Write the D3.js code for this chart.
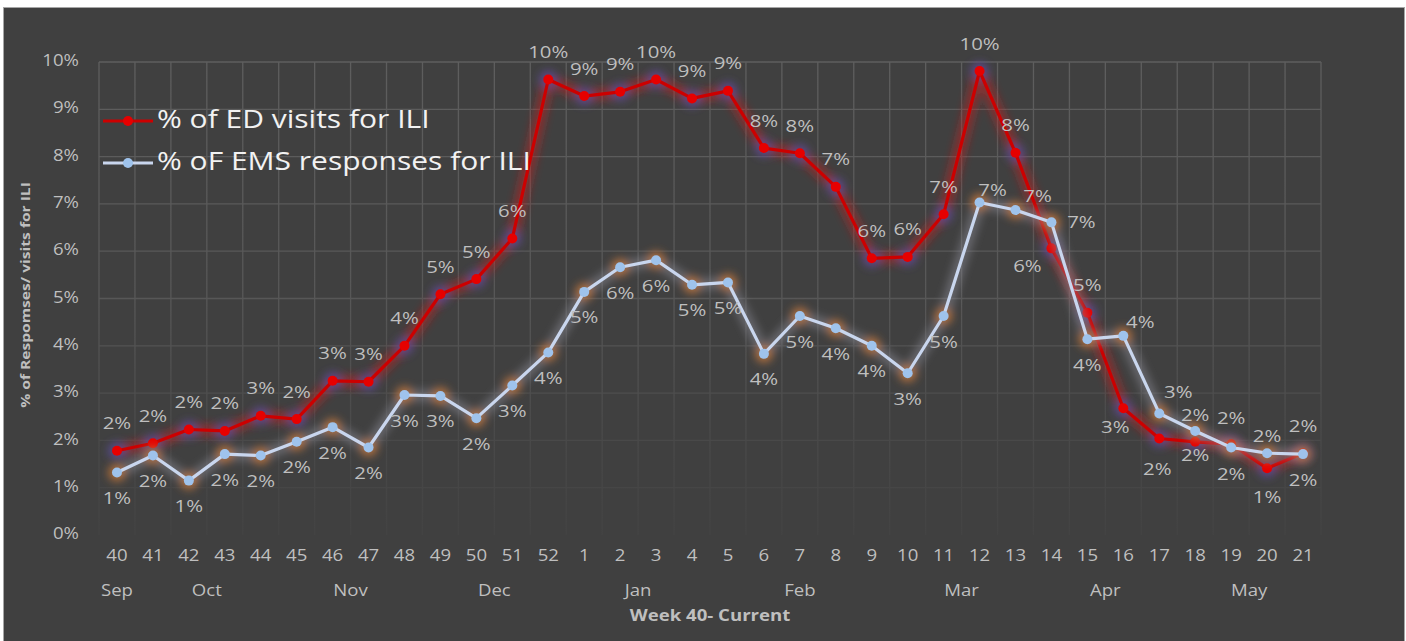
<!DOCTYPE html>
<html>
<head>
<meta charset="utf-8">
<script src="https://cdn.jsdelivr.net/npm/d3@7"></script>
<style>
  html, body { margin: 0; padding: 0; background: #ffffff; }
  svg { display: block; }
  text { font-family: "Open Sans", sans-serif; }
</style>
</head>
<body>
<svg id="chart"></svg>
<script>
// ── Data ──
const weeks = ["40","41","42","43","44","45","46","47","48","49","50","51","52",
  "1","2","3","4","5","6","7","8","9","10","11","12","13","14","15","16","17","18","19","20","21"];

const months = [
  { name: "Sep", first: "40", last: "40" },
  { name: "Oct", first: "41", last: "44" },
  { name: "Nov", first: "45", last: "48" },
  { name: "Dec", first: "49", last: "52" },
  { name: "Jan", first: "1", last: "4" },
  { name: "Feb", first: "5", last: "9" },
  { name: "Mar", first: "10", last: "13" },
  { name: "Apr", first: "14", last: "17" },
  { name: "May", first: "18", last: "21" }
];

const edVisits = [0.0178, 0.0194, 0.0223, 0.0220, 0.0252, 0.0245, 0.0326, 0.0324, 0.0400, 0.0509,
  0.0541, 0.0627, 0.0963, 0.0928, 0.0937, 0.0963, 0.0923, 0.0939, 0.0818, 0.0807, 0.0736, 0.0585,
  0.0588, 0.0678, 0.0981, 0.0808, 0.0606, 0.0470, 0.0268, 0.0204, 0.0197, 0.0192, 0.0141, 0.0173];

const emsResponses = [0.0132, 0.0168, 0.0115, 0.0171, 0.0168, 0.0197, 0.0228, 0.0185, 0.0296, 0.0294,
  0.0247, 0.0316, 0.0386, 0.0514, 0.0566, 0.0581, 0.0529, 0.0534, 0.0383, 0.0463, 0.0437, 0.0400,
  0.0342, 0.0463, 0.0703, 0.0687, 0.0661, 0.0414, 0.0421, 0.0257, 0.0220, 0.0185, 0.0173, 0.0171];

const yTicks = [0, 0.01, 0.02, 0.03, 0.04, 0.05, 0.06, 0.07, 0.08, 0.09, 0.10];

// ── Label placement (offset of label centre from its point) ──
const edNudge = { "14": [-24, 19], "16": [-8, 20], "17": [-2, 32], "18": [0, 15],
  "19": [0, 31], "20": [0, 30], "21": [0, 28] };
const emsNudge = { "12": [13, -11], "13": [22, -13], "14": [30, 1], "16": [17, -12],
  "17": [19, -20], "18": [0, -14], "19": [0, -28], "20": [0, -16], "21": [0, -27] };

// ── Layout ──
const W = 1406, H = 641;
const plot = { left: 99, right: 1321, top: 62, bottom: 535 };
const STRETCH = 1.2; // source text is horizontally stretched

const svg = d3.select("#chart").attr("width", W).attr("height", H);

const defs = svg.append("defs");
defs.append("filter").attr("id", "glow")
  .attr("x", "-20%").attr("y", "-20%").attr("width", "140%").attr("height", "140%")
  .append("feGaussianBlur").attr("stdDeviation", 4.5);

const gridGrad = defs.append("linearGradient").attr("id", "gridfade")
  .attr("gradientUnits", "userSpaceOnUse")
  .attr("x1", 0).attr("x2", 0).attr("y1", plot.top).attr("y2", plot.bottom);
gridGrad.append("stop").attr("offset", "0").attr("stop-color", "#5e5e5e");
gridGrad.append("stop").attr("offset", "0.5").attr("stop-color", "#575757");
gridGrad.append("stop").attr("offset", "0.8").attr("stop-color", "#494949");
gridGrad.append("stop").attr("offset", "1").attr("stop-color", "#434343");

// background + frame
svg.append("rect").attr("x", 3.5).attr("y", 7.5).attr("width", 1401).attr("height", H)
  .attr("fill", "#404040").attr("stroke", "#a6a6a6").attr("stroke-width", 1);

// ── Scales ──
const x = d3.scaleBand().domain(weeks).range([plot.left, plot.right]).padding(0);
const y = d3.scaleLinear().domain([0, 0.10]).range([plot.bottom, plot.top]);
const cx = w => x(w) + x.bandwidth() / 2;
const pct = d3.format(".0%");

function stretched(sel, px, py, rot) {
  return sel.attr("transform", `translate(${px},${py})${rot ? ` rotate(${rot})` : ""} scale(${STRETCH},1)`);
}

// ── Grid ──
const grid = svg.append("g").attr("stroke", "url(#gridfade)").attr("stroke-width", 1.3);
grid.selectAll("line.h").data(yTicks.slice(1)).join("line")
  .attr("class", "h")
  .attr("x1", plot.left).attr("x2", plot.right)
  .attr("y1", d => y(d)).attr("y2", d => y(d));
grid.selectAll("line.v").data(weeks.concat(["end"])).join("line")
  .attr("class", "v")
  .attr("x1", d => d === "end" ? plot.right : x(d))
  .attr("x2", d => d === "end" ? plot.right : x(d))
  .attr("y1", plot.top).attr("y2", plot.bottom);

// ── Axes ──
const yAxis = svg.append("g");
yAxis.selectAll("text").data(yTicks).join("text")
  .each(function(d) { stretched(d3.select(this), 79, y(d), 0); })
  .attr("text-anchor", "end").attr("dominant-baseline", "middle")
  .attr("font-size", 15.5).attr("fill", "#bfbfbf")
  .text(d => pct(d));

const xAxis = svg.append("g");
xAxis.selectAll("text").data(weeks).join("text")
  .each(function(d) { stretched(d3.select(this), cx(d), 557, 0); })
  .attr("text-anchor", "middle").attr("dominant-baseline", "middle")
  .attr("font-size", 15.5).attr("fill", "#bfbfbf")
  .text(d => d);

xAxis.selectAll("text.month").data(months).join("text")
  .attr("class", "month")
  .each(function(d) {
    const mid = (x(d.first) + x(d.last) + x.bandwidth()) / 2;
    stretched(d3.select(this), mid, 592, 0);
  })
  .attr("text-anchor", "middle").attr("dominant-baseline", "middle")
  .attr("font-size", 15.5).attr("fill", "#bfbfbf")
  .text(d => d.name);

stretched(svg.append("text"), 710, 617, 0)
  .attr("text-anchor", "middle").attr("dominant-baseline", "middle")
  .attr("font-size", 15.5).attr("font-weight", "bold").attr("fill", "#bfbfbf")
  .text("Week 40- Current");

stretched(svg.append("text"), 27, 295, -90)
  .attr("text-anchor", "middle").attr("dominant-baseline", "middle")
  .attr("font-size", 13).attr("font-weight", "bold").attr("fill", "#bfbfbf")
  .text("% of Respomses/ visits for ILI");

// ── Series ──
const series = [
  { key: "ed", values: edVisits, line: "#cc0000", marker: "#e60000",
    lineGlow: "#d02020", markGlow: "#5a4c9a", nudge: edNudge, dflt: [0, -26] },
  { key: "ems", values: emsResponses, line: "#c9d6ee", marker: "#9fc3ec",
    lineGlow: "#8e8e98", markGlow: "#c2743a", nudge: emsNudge, dflt: [0, 27] }
];

const line = d3.line().x(d => cx(d.week)).y(d => y(d.v));

series.forEach(s => {
  const pts = weeks.map((w, i) => ({ week: w, v: s.values[i] }));
  const g = svg.append("g").attr("class", s.key);

  const glow = g.append("g").attr("filter", "url(#glow)");
  glow.append("path").datum(pts)
    .attr("d", line).attr("fill", "none")
    .attr("stroke", s.lineGlow).attr("stroke-opacity", 0.5)
    .attr("stroke-width", 12).attr("stroke-linejoin", "round");
  glow.selectAll("circle").data(pts).join("circle")
    .attr("cx", d => cx(d.week)).attr("cy", d => y(d.v)).attr("r", 9)
    .attr("fill", s.markGlow).attr("opacity", 0.8);

  g.append("path").datum(pts)
    .attr("d", line).attr("fill", "none")
    .attr("stroke", s.line).attr("stroke-width", 3.2).attr("stroke-linejoin", "round");

  g.selectAll("circle.m").data(pts).join("circle")
    .attr("class", "m")
    .attr("cx", d => cx(d.week)).attr("cy", d => y(d.v)).attr("r", 5)
    .attr("fill", s.marker);
  s.pts = pts;
});

// ── Data labels ──
series.forEach(s => {
  svg.append("g").selectAll("text").data(s.pts).join("text")
    .each(function(d) {
      const off = s.nudge[d.week] || s.dflt;
      stretched(d3.select(this), cx(d.week) + off[0], y(d.v) + off[1], 0);
    })
    .attr("text-anchor", "middle").attr("dominant-baseline", "middle")
    .attr("font-size", 17).attr("fill", "#bfbfbf")
    .text(d => pct(d.v));
});

// ── Legend ──
const legend = svg.append("g");
const legendItems = [
  { label: "% of ED visits for ILI", s: series[0], ly: 121 },
  { label: "% oF EMS responses for ILI", s: series[1], ly: 163 }
];
legendItems.forEach(it => {
  legend.append("line")
    .attr("x1", 103).attr("x2", 153).attr("y1", it.ly).attr("y2", it.ly)
    .attr("stroke", it.s.line).attr("stroke-width", 3.2);
  legend.append("circle").attr("cx", 128).attr("cy", it.ly).attr("r", 5)
    .attr("fill", it.s.marker);
  stretched(legend.append("text"), 157, it.ly, 0)
    .attr("dominant-baseline", "middle")
    .attr("font-size", 25).attr("fill", "#f2f2f2")
    .text(it.label);
});
</script>
</body>
</html>
